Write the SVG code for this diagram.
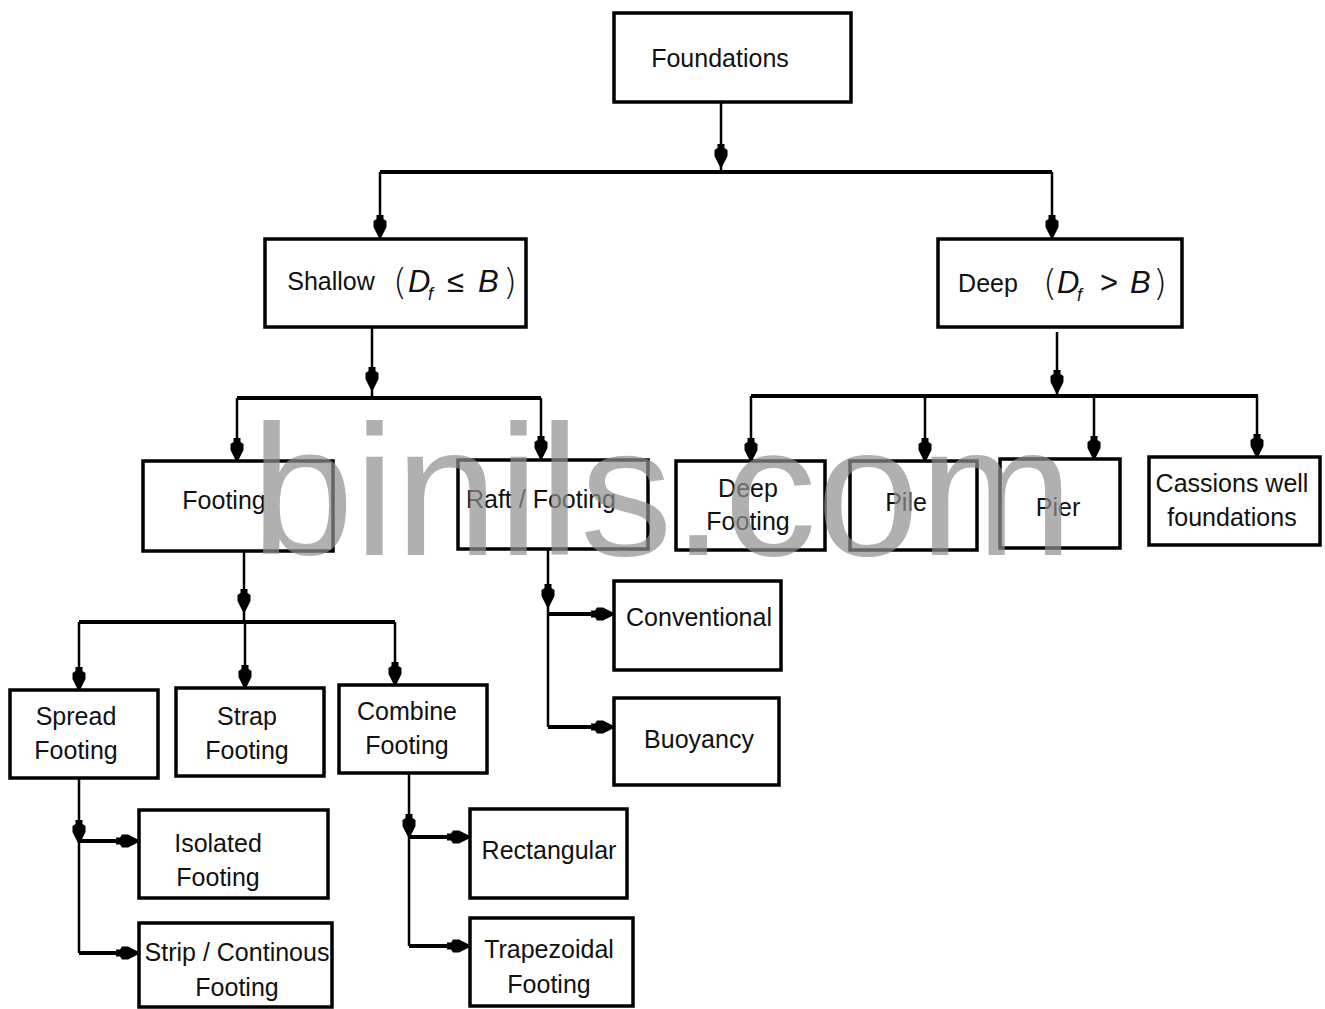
<svg xmlns="http://www.w3.org/2000/svg" xmlns:xlink="http://www.w3.org/1999/xlink" width="1325" height="1009" viewBox="0 0 1325 1009">
<style>
.box{fill:#fff;stroke:#000;stroke-width:3.5}
.t{font-family:"Liberation Sans",Arial,sans-serif;font-size:25px;fill:#111;text-anchor:middle}
.m{font-family:"Liberation Sans",Arial,sans-serif;font-style:italic;font-size:31px;fill:#111}
.p{font-family:"DejaVu Sans",sans-serif;font-weight:200;font-size:36px;fill:#111}
.ln{fill:none;stroke:#000;stroke-width:2.5}
.bus{fill:none;stroke:#000;stroke-width:4}
.wm{font-family:"Liberation Sans",Arial,sans-serif;font-size:185px;fill:#909090;opacity:0.7}
</style>
<defs>
<path id="ah" d="M-3.5,-23 L3.5,-23 L3.5,-19 L6.5,-17 L6.5,-11 L1,0 L-1,0 L-6.5,-11 L-6.5,-17 L-3.5,-19 Z" fill="#000"/>
</defs>
<rect width="1325" height="1009" fill="#fff"/>
<g id="connectors">
<path class="ln" d="M721,102 V172 M380,172 V236 M1052,172 V236"/>
<path class="bus" d="M380,172 H1052"/>
<path class="ln" d="M372,327 V398 M237,398 V459 M541,398 V457"/>
<path class="bus" d="M237,398 H541"/>
<path class="ln" d="M1057,332 V396 M751,396 V459 M925,396 V459 M1094,396 V457 M1257,396 V455"/>
<path class="bus" d="M751,396 H1258"/>
<path class="ln" d="M244,551 V622 M79,622 V688 M245,622 V686 M395,622 V683"/>
<path class="bus" d="M79,622 H395"/>
<path class="ln" d="M79,778 V953"/>
<path class="bus" d="M79,953 H137 M79,841 H137"/>
<path class="ln" d="M409,773 V946"/>
<path class="bus" d="M409,946 H468 M409,837 H468"/>
<path class="ln" d="M548,549 V727"/>
<path class="bus" d="M548,727 H612 M548,614 H612"/>
<use href="#ah" x="721" y="167"/>
<use href="#ah" x="380" y="238"/>
<use href="#ah" x="1052" y="238"/>
<use href="#ah" x="372" y="390"/>
<use href="#ah" x="237" y="461"/>
<use href="#ah" x="541" y="459"/>
<use href="#ah" x="1057" y="393"/>
<use href="#ah" x="751" y="461"/>
<use href="#ah" x="925" y="461"/>
<use href="#ah" x="1094" y="459"/>
<use href="#ah" x="1257" y="457"/>
<use href="#ah" x="244" y="612"/>
<use href="#ah" x="79" y="690"/>
<use href="#ah" x="245" y="688"/>
<use href="#ah" x="395" y="685"/>
<use href="#ah" x="79" y="843"/>
<use href="#ah" x="409" y="837"/>
<use href="#ah" x="548" y="607"/>
<use href="#ah" transform="translate(139,841) rotate(-90)"/>
<use href="#ah" transform="translate(139,953) rotate(-90)"/>
<use href="#ah" transform="translate(470,837) rotate(-90)"/>
<use href="#ah" transform="translate(470,946) rotate(-90)"/>
<use href="#ah" transform="translate(614,614) rotate(-90)"/>
<use href="#ah" transform="translate(614,727) rotate(-90)"/>
</g>
<g id="foundations"><rect class="box" x="614" y="13" width="237" height="89"/><text class="t" x="720" y="67">Foundations</text></g>
<g id="shallow"><rect class="box" x="265" y="239" width="261" height="88"/>
<text class="t" x="331" y="290">Shallow</text>
<text class="p" x="393" y="294">(</text>
<text class="m" x="408" y="292">D</text>
<text class="m" x="428" y="300" style="font-size:18px">f</text>
<text class="m" x="447" y="292" style="font-style:normal">≤</text>
<text class="m" x="478" y="292">B</text>
<text class="p" x="503" y="294">)</text>
</g>
<g id="deep"><rect class="box" x="938" y="239" width="244" height="88"/>
<text class="t" x="988" y="292">Deep</text>
<text class="p" x="1043" y="295">(</text>
<text class="m" x="1057" y="293">D</text>
<text class="m" x="1077" y="301" style="font-size:18px">f</text>
<text class="m" x="1100" y="293" style="font-style:normal">&gt;</text>
<text class="m" x="1130" y="293">B</text>
<text class="p" x="1153" y="295">)</text>
</g>
<g id="footing"><rect class="box" x="143" y="461" width="190" height="90"/><text class="t" x="224" y="509">Footing</text></g>
<g id="raft"><rect class="box" x="458" y="460" width="190" height="89"/><text class="t" x="541" y="508">Raft / Footing</text></g>
<g id="deep-footing"><rect class="box" x="676" y="461" width="149" height="89"/><text class="t" x="748" y="497">Deep</text><text class="t" x="748" y="530">Footing</text></g>
<g id="pile"><rect class="box" x="850" y="461" width="127" height="89"/><text class="t" x="906" y="511">Pile</text></g>
<g id="pier"><rect class="box" x="1000" y="459" width="120" height="89"/><text class="t" x="1058" y="516">Pier</text></g>
<g id="cassions"><rect class="box" x="1149" y="457" width="171" height="88"/><text class="t" x="1232" y="492">Cassions well</text><text class="t" x="1232" y="526">foundations</text></g>
<g id="spread"><rect class="box" x="10" y="690" width="148" height="88"/><text class="t" x="76" y="725">Spread</text><text class="t" x="76" y="759">Footing</text></g>
<g id="strap"><rect class="box" x="176" y="688" width="148" height="88"/><text class="t" x="247" y="725">Strap</text><text class="t" x="247" y="759">Footing</text></g>
<g id="combine"><rect class="box" x="339" y="685" width="148" height="88"/><text class="t" x="407" y="720">Combine</text><text class="t" x="407" y="754">Footing</text></g>
<g id="conventional"><rect class="box" x="614" y="581" width="167" height="89"/><text class="t" x="699" y="626">Conventional</text></g>
<g id="buoyancy"><rect class="box" x="614" y="698" width="165" height="87"/><text class="t" x="699" y="748">Buoyancy</text></g>
<g id="isolated"><rect class="box" x="139" y="810" width="189" height="88"/><text class="t" x="218" y="852">Isolated</text><text class="t" x="218" y="886">Footing</text></g>
<g id="strip"><rect class="box" x="139" y="923" width="193" height="84"/><text class="t" x="237" y="961">Strip / Continous</text><text class="t" x="237" y="996">Footing</text></g>
<g id="rectangular"><rect class="box" x="470" y="809" width="157" height="89"/><text class="t" x="549" y="859">Rectangular</text></g>
<g id="trapezoidal"><rect class="box" x="470" y="918" width="163" height="88"/><text class="t" x="549" y="958">Trapezoidal</text><text class="t" x="549" y="993">Footing</text></g>
<text class="wm" x="251" y="555">binils.com</text>
</svg>
